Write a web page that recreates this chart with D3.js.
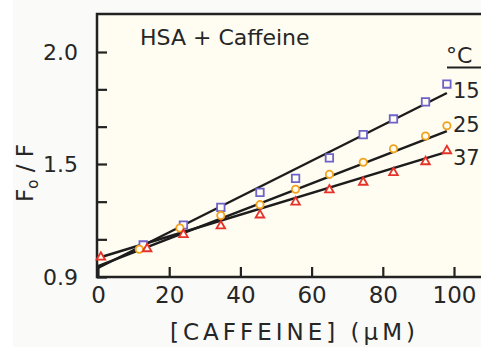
<!DOCTYPE html>
<html>
<head>
<meta charset="utf-8">
<script src="https://cdn.jsdelivr.net/npm/d3@7"></script>
<style>
html,body{margin:0;padding:0;background:#fafaf8;overflow:hidden;}
svg{display:block;}
text{font-family:"DejaVu Sans",sans-serif;fill:#262626;}
</style>
</head>
<body>
<svg id="chart" width="481" height="347"></svg>
<script>
// ---- data ----
const conc15 = [12.7, 24, 34.5, 45.5, 55.5, 65, 74.5, 83, 92, 98];
const ratio15 = [1.070, 1.176, 1.270, 1.349, 1.424, 1.527, 1.631, 1.701, 1.777, 1.857];
const conc25 = [11.6, 23, 34.5, 45.5, 55.5, 65, 74.5, 83, 92, 98];
const ratio25 = [1.047, 1.160, 1.227, 1.284, 1.366, 1.445, 1.508, 1.568, 1.625, 1.671];
const conc37 = [0.8, 13.8, 24, 34.5, 45.5, 55.5, 65, 74.5, 83, 92, 98];
const ratio37 = [1.005, 1.050, 1.125, 1.171, 1.229, 1.298, 1.362, 1.403, 1.454, 1.510, 1.559];
const fitConc = [0, 98];
const fit15 = [0.948, 1.817];
const fit25 = [0.958, 1.647];
const fit37 = [1.001, 1.554];
const temperatures = ["15", "25", "37"];
const xTicks = [0, 20, 40, 60, 80, 100];
const yMajorTicks = [0.9, 1.5, 2.0];
const yMajorLabels = ["0.9", "1.5", "2.0"];
const yMinorTicks = [1.1, 1.3, 1.6667, 1.8333];
const titleText = "HSA + Caffeine";
const xTitle = "[CAFFEINE]  (\u00B5M)";

// ---- layout ----
const svg = d3.select("#chart");
const W = 481, H = 347;
const mLeft = 97, mTop = 14, mBottom = 277;
const plotBg = "#fffcf1";

const x = d3.scaleLinear().domain([0, 100]).range([98, 454]);
const y = d3.scaleLinear().domain([0.9, 1.5, 2.0]).range([277, 164, 52]);

svg.append("rect").attr("x", 0).attr("y", 0).attr("width", 13).attr("height", H).attr("fill", "#ffffff");
svg.append("rect").attr("x", mLeft).attr("y", mTop).attr("width", W - mLeft + 10).attr("height", mBottom - mTop).attr("fill", plotBg);

// frame
const axisColor = "#222";
svg.append("path")
  .attr("d", `M${W + 10},${mTop}H${mLeft}V${mBottom}H${W + 10}`)
  .attr("fill", "none").attr("stroke", axisColor).attr("stroke-width", 2.5);

// x axis (ticks inward)
const xAxis = d3.axisBottom(x).tickValues(xTicks).tickSize(-10).tickPadding(18).tickFormat(d3.format("d"));
const gx = svg.append("g").attr("transform", `translate(0,${mBottom})`).call(xAxis);
gx.select(".domain").remove();
gx.selectAll(".tick line").attr("stroke", axisColor).attr("stroke-width", 2.2);
gx.selectAll(".tick text").attr("font-size", 23).attr("fill", "#262626")
  .attr("font-family", "DejaVu Sans, sans-serif").attr("dy", "0.35em");

// y axis
const yAxis = d3.axisLeft(y).tickValues(yMajorTicks).tickSize(-10).tickPadding(19)
  .tickFormat((d, i) => yMajorLabels[i]);
const gy = svg.append("g").attr("transform", `translate(${mLeft},0)`).call(yAxis);
gy.select(".domain").remove();
gy.selectAll(".tick line").attr("stroke", axisColor).attr("stroke-width", 2.2);
gy.selectAll(".tick text").attr("font-size", 22).attr("fill", "#262626")
  .attr("font-family", "DejaVu Sans, sans-serif");
const yAxisMinor = d3.axisLeft(y).tickValues(yMinorTicks).tickSize(-10).tickFormat("");
const gym = svg.append("g").attr("transform", `translate(${mLeft},0)`).call(yAxisMinor);
gym.select(".domain").remove();
gym.selectAll(".tick line").attr("stroke", axisColor).attr("stroke-width", 2.2);

// fit lines
const line = d3.line().x(d => x(d[0])).y(d => y(d[1]));
[fit15, fit25, fit37].forEach(f => {
  svg.append("path").datum(fitConc.map((c, i) => [c, f[i]]))
    .attr("d", line).attr("fill", "none").attr("stroke", "#1c1c1c").attr("stroke-width", 2.4);
});

// markers
const series = [
  {conc: conc15, val: ratio15, sym: d3.symbolSquare, size: 56, color: "#6d63c9"},
  {conc: conc25, val: ratio25, sym: d3.symbolCircle, size: 42, color: "#f2a21e"},
  {conc: conc37, val: ratio37, sym: d3.symbolTriangle, size: 32, color: "#e5332a"}
];
series.forEach(s => {
  svg.append("g").selectAll("path").data(s.conc.map((c, i) => [c, s.val[i]]))
    .join("path")
    .attr("transform", d => `translate(${x(d[0])},${y(d[1])})`)
    .attr("d", d3.symbol().type(s.sym).size(s.size))
    .attr("fill", plotBg).attr("stroke", s.color).attr("stroke-width", 1.8);
});

// legend
svg.append("text").attr("x", 446).attr("y", 63).attr("font-size", 22).text("\u00B0C");
svg.append("line").attr("x1", 447).attr("x2", W + 5).attr("y1", 67.5).attr("y2", 67.5)
  .attr("stroke", axisColor).attr("stroke-width", 2);
const legendY = [98, 132, 165];
temperatures.forEach((t, i) => {
  svg.append("text").attr("x", 453).attr("y", legendY[i]).attr("font-size", 21).text(t);
});

// title
svg.append("text").attr("x", 140).attr("y", 45).attr("font-size", 22).text(titleText);

// x title
svg.append("text").attr("x", 170).attr("y", 340).attr("font-size", 23)
  .attr("textLength", 245).attr("lengthAdjust", "spacing").text(xTitle);

// y title (rotated)
const yt = svg.append("text").attr("transform", "translate(33,202) rotate(-90)").attr("font-size", 23);
yt.append("tspan").text("F");
yt.append("tspan").attr("font-size", 15).attr("dy", 5).text("o");
yt.append("tspan").attr("dy", -5).text(" / F");
</script>
</body>
</html>
